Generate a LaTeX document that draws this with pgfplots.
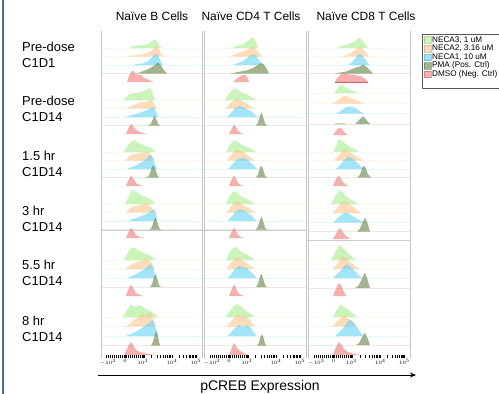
\documentclass[border=0pt]{standalone}
\usepackage{pgfplots}
\pgfplotsset{compat=1.18}
\usepackage{fontspec}
\setmainfont{Liberation Sans}
\usetikzlibrary{arrows.meta}
\definecolor{cgreen}{RGB}{165,238,140}
\definecolor{corange}{RGB}{252,196,140}
\definecolor{cblue}{RGB}{100,212,245}
\definecolor{colive}{RGB}{110,140,80}
\definecolor{cred}{RGB}{240,120,120}
\definecolor{lblue}{RGB}{70,110,165}
\pgfplotsset{
  g/.style={fill=cgreen, fill opacity=0.6, draw=none, forget plot},
  o/.style={fill=corange, fill opacity=0.6, draw=none, forget plot},
  b/.style={fill=cblue, fill opacity=0.6, draw=none, forget plot},
  v/.style={fill=colive, fill opacity=0.65, draw=none, forget plot},
  r/.style={fill=cred, fill opacity=0.6, draw=none, forget plot},
  bl/.style={draw=#1, draw opacity=0.16, line width=0.6bp, unbounded coords=jump, forget plot},
  panel/.style={scale only axis, height=327bp, ymin=-358, ymax=-31,
    separate axis lines, x axis line style={draw=none},
    y axis line style={draw=gray!45, line width=0.9bp},
    ytick=\empty, xtick pos=left, tick align=inside,
    major tick length=3.2bp, minor tick length=3.2bp,
    tick style={black, line width=0.55bp},
    xticklabel style={font=\fontsize{4.5}{4.5}\selectfont, inner sep=0.6bp},
    xticklabels={$-10^3$,$0$,$10^3$,$10^4$,$10^5$},
    clip=false},
}
\begin{document}
\begin{tikzpicture}
\path[use as bounding box] (0,0) rectangle (499bp,-394bp);
\draw[lblue, line width=1.2bp] (3bp,0) -- (3bp,-394bp);
% titles
\node[font=\fontsize{12}{14}\selectfont] at (152bp,-16bp) {Naïve B Cells};
\node[font=\fontsize{12}{14}\selectfont] at (251bp,-16bp) {Naïve CD4 T Cells};
\node[font=\fontsize{12}{14}\selectfont] at (366bp,-16bp) {Naïve CD8 T Cells};
% row labels
\begin{scope}[every node/.style={anchor=west, inner sep=0pt, align=left, font=\fontsize{13}{16}\selectfont}]
\node at (22bp,-54.5bp) {Pre-dose\\C1D1};
\node at (22bp,-108.5bp) {Pre-dose\\C1D14};
\node at (22bp,-163.5bp) {1.5 hr\\C1D14};
\node at (22bp,-218.5bp) {3 hr\\C1D14};
\node at (22bp,-272.5bp) {5.5 hr\\C1D14};
\node at (22bp,-328.5bp) {8 hr\\C1D14};
\end{scope}
% ================= column 1 =================
\begin{axis}[panel, at={(101bp,-31bp)}, anchor=north west, width=101bp, xmin=101, xmax=202,
  xtick={108,125,143,172,196},
  minor xtick={106,108,...,144,151.7,156.8,160.5,163.3,165.6,167.5,169.2,170.7,179.2,183.5,186.5,188.8,190.7,192.3,193.7,194.9}]
\addplot[draw=gray!40, line width=0.7bp, forget plot] coordinates {(101,-230.5)(306,-230.5)};
\addplot[bl=cgreen] coordinates {(101,-48)(202,-48)(202,nan)(101,-100)(202,-100)(202,nan)(101,-152)(202,-152)(202,nan)(101,-204)(202,-204)(202,nan)(101,-260)(202,-260)(202,nan)(101,-317)(202,-317)};
\addplot[bl=corange] coordinates {(101,-56.5)(202,-56.5)(202,nan)(101,-108.5)(202,-108.5)(202,nan)(101,-160.5)(202,-160.5)(202,nan)(101,-212.5)(202,-212.5)(202,nan)(101,-269)(202,-269)(202,nan)(101,-326.5)(202,-326.5)};
\addplot[bl=cblue] coordinates {(101,-65)(202,-65)(202,nan)(101,-117)(202,-117)(202,nan)(101,-169)(202,-169)(202,nan)(101,-221)(202,-221)(202,nan)(101,-278)(202,-278)(202,nan)(101,-336)(202,-336)};
\addplot[bl=colive] coordinates {(101,-73.5)(202,-73.5)(202,nan)(101,-125.5)(202,-125.5)(202,nan)(101,-177.5)(202,-177.5)(202,nan)(101,-229.5)(202,-229.5)(202,nan)(101,-287)(202,-287)(202,nan)(101,-345.5)(202,-345.5)};
% row 0
\addplot[g] coordinates {(130,-48)(132,-46)(138,-45.5)(144,-45)(148,-44)(151,-42)(154,-39.5)(156,-40)(158,-43)(160,-46.5)(162,-48)};
\addplot[o] coordinates {(127,-56.5)(132,-55.5)(140,-55)(146,-53.5)(150,-51.5)(154,-48.5)(156.5,-46)(158,-47.5)(160,-51.5)(162,-55)(164,-56.5)};
\addplot[b] coordinates {(132,-65)(138,-64)(144,-63)(148,-61)(151,-58)(154,-55)(156,-53.5)(158,-55)(160,-60)(162,-64)(163,-65)};
\addplot[v] coordinates {(137,-73.5)(142,-71.5)(147,-69.5)(151,-67.5)(155,-65)(158,-62.5)(161,-65.5)(164,-70.5)(167,-73.5)};
\addplot[r] coordinates {(127,-82)(129,-76)(131,-72)(133,-70.5)(135,-73)(138,-75)(141,-75)(144,-78)(147,-79)(150,-80.5)(154,-82)};
% row 1
\addplot[g] coordinates {(123,-100)(126,-97)(130,-94)(135,-93)(140,-92)(145,-90.5)(149,-88)(151,-89)(153,-95)(155,-100)};
\addplot[o] coordinates {(126,-108.5)(130,-106.5)(135,-104.5)(140,-102.5)(144,-102)(147,-101.5)(150,-99.5)(152,-100.5)(154,-103.5)(157,-108.5)};
\addplot[b] coordinates {(125,-117)(130,-115.5)(136,-114)(142,-112)(147,-110)(151,-108)(153,-107)(155,-109)(157,-114)(158,-117)};
\addplot[v] coordinates {(148,-125.5)(151,-123.5)(153,-118.5)(154.5,-115.5)(156,-118.5)(158,-123.5)(160,-125.5)};
\addplot[r] coordinates {(126,-134)(128,-129)(130,-125)(131.5,-124)(133,-126)(136,-130)(140,-132)(144,-133)(147,-134)};
% row 2
\addplot[g] coordinates {(124,-152)(127,-147)(131,-142)(134,-140)(137,-142)(141,-144)(145,-146)(150,-147)(153,-149)(155,-152)};
\addplot[o] coordinates {(126,-160.5)(129,-156.5)(133,-154.5)(137,-154)(141,-153)(145,-151.5)(149,-152.5)(152,-155.5)(155,-160.5)};
\addplot[b] coordinates {(127,-169)(132,-167)(137,-165)(142,-162)(146,-159)(149,-155.5)(151,-155)(153,-159)(155,-165)(157,-169)};
\addplot[v] coordinates {(145,-177.5)(148,-176.5)(150,-173.5)(152,-166.5)(153.5,-165.5)(155,-168.5)(157,-174.5)(159,-177.5)};
\addplot[r] coordinates {(126,-186)(128,-181)(130,-177)(131.5,-176)(133,-178)(136,-183)(140,-185)(143,-186)};
% row 3
\addplot[g] coordinates {(125,-204)(128,-198)(132,-190)(135,-191)(139,-194)(143,-196)(148,-198)(152,-200)(155,-204)};
\addplot[o] coordinates {(126,-212.5)(129,-209.5)(133,-206.5)(138,-205.5)(142,-204.5)(145,-202.5)(148,-203.5)(151,-206.5)(154,-212.5)};
\addplot[b] coordinates {(128,-221)(133,-219)(139,-217)(144,-215)(148,-213)(151,-211)(154,-209)(156,-213)(157,-221)};
\addplot[v] coordinates {(150,-229.5)(152,-226.5)(154,-220.5)(155.5,-217.5)(157,-221.5)(159,-227.5)(161,-229.5)};
\addplot[r] coordinates {(126,-238)(128,-233)(130,-229)(131.5,-228)(133,-230)(136,-235)(140,-237)(144,-238)};
% row 4
\addplot[g] coordinates {(124,-260)(127,-254)(131,-248)(134,-247.5)(138,-250)(142,-252)(147,-254)(151,-256)(155,-260)};
\addplot[o] coordinates {(125,-269)(129,-266)(134,-263)(139,-261)(143,-260)(146,-258)(149,-260)(152,-264)(155,-269)};
\addplot[b] coordinates {(127,-278)(132,-276)(138,-273)(143,-270)(147,-267)(150,-264)(152,-265)(154,-271)(156,-278)};
\addplot[v] coordinates {(150,-287)(152,-284)(154,-277)(155.5,-274)(157,-278)(159,-285)(161,-287)};
\addplot[r] coordinates {(126,-296)(128,-290)(130,-286)(131.5,-285)(133,-288)(136,-293)(140,-295)(144,-296)};
% row 5
\addplot[g] coordinates {(123,-317)(127,-310)(131,-304.5)(134,-307)(137,-306)(140,-305)(144,-308)(150,-311)(155,-314)(158,-317)};
\addplot[o] coordinates {(126,-326.5)(130,-323.5)(135,-319.5)(139,-316.5)(142,-313.5)(145,-316.5)(148,-313.5)(150,-311.5)(153,-317.5)(156,-326.5)};
\addplot[b] coordinates {(125,-336)(131,-334)(137,-331)(142,-328)(146,-325)(150,-322)(152.5,-320)(155,-326)(157,-333)(158,-336)};
\addplot[v] coordinates {(151,-345.5)(153,-341.5)(155,-333.5)(156,-330.5)(157.5,-334.5)(159,-341.5)(160,-345.5)};
\addplot[r] coordinates {(124,-355)(127,-349)(129,-344)(131,-342)(133,-345)(136,-350)(140,-352)(146,-353.5)(152,-354.3)(157,-355)};
\end{axis}
% ================= column 2 =================
\begin{axis}[panel, at={(204bp,-31bp)}, anchor=north west, width=102bp, xmin=204, xmax=306,
  xtick={212,229,247,276,300},
  minor xtick={210,212,...,248,255.7,260.8,264.5,267.3,269.6,271.5,273.2,274.7,283.2,287.5,290.5,292.8,294.7,296.3,297.7,298.9}]
\addplot[bl=cgreen] coordinates {(204,-48)(306,-48)(306,nan)(204,-100)(306,-100)(306,nan)(204,-152)(306,-152)(306,nan)(204,-204)(306,-204)(306,nan)(204,-260)(306,-260)(306,nan)(204,-317)(306,-317)};
\addplot[bl=corange] coordinates {(204,-56.5)(306,-56.5)(306,nan)(204,-108.5)(306,-108.5)(306,nan)(204,-160.5)(306,-160.5)(306,nan)(204,-212.5)(306,-212.5)(306,nan)(204,-269)(306,-269)(306,nan)(204,-326.5)(306,-326.5)};
\addplot[bl=cblue] coordinates {(204,-65)(306,-65)(306,nan)(204,-117)(306,-117)(306,nan)(204,-169)(306,-169)(306,nan)(204,-221)(306,-221)(306,nan)(204,-278)(306,-278)(306,nan)(204,-336)(306,-336)};
\addplot[bl=colive] coordinates {(204,-73.5)(306,-73.5)(306,nan)(204,-125.5)(306,-125.5)(306,nan)(204,-177.5)(306,-177.5)(306,nan)(204,-229.5)(306,-229.5)(306,nan)(204,-287)(306,-287)(306,nan)(204,-345.5)(306,-345.5)};
% row 0
\addplot[g] coordinates {(232,-48)(236,-46)(241,-45)(245,-43)(249,-40)(252,-37.5)(254,-38)(256,-43)(258,-48)};
\addplot[o] coordinates {(230,-56.5)(235,-54.5)(240,-52.5)(245,-50.5)(249,-48.5)(252,-46.5)(255,-47.5)(258,-51.5)(261,-55.5)(262,-56.5)};
\addplot[b] coordinates {(233,-65)(238,-63)(243,-61)(247,-58)(251,-55)(254,-54)(257,-57)(260,-62)(262,-65)};
\addplot[v] coordinates {(230,-73.5)(238,-72)(246,-70.5)(252,-68.5)(257,-65.5)(261,-63)(264,-64.5)(267,-69.5)(269,-73.5)};
\addplot[r] coordinates {(233,-82)(236,-79)(239,-77)(242,-75.5)(245,-75)(247,-77)(249,-82)};
% row 1
\addplot[g] coordinates {(225,-100)(228,-95)(232,-90)(235,-88)(238,-90)(243,-93)(248,-95)(253,-98)(256,-100)};
\addplot[o] coordinates {(226,-108.5)(229,-104.5)(233,-100.5)(236,-98.5)(239,-99.5)(243,-101.5)(247,-103.5)(251,-106.5)(254,-108.5)};
\addplot[b] coordinates {(227,-117)(231,-113)(235,-108)(239,-106)(243,-107)(247,-109)(251,-111)(255,-115)(258,-117)};
\addplot[v] coordinates {(256,-125.5)(258,-122.5)(260,-115.5)(261.5,-112.5)(263,-116.5)(265,-123.5)(267,-125.5)};
\addplot[r] coordinates {(229,-134)(231,-130)(233,-126)(234.5,-125)(236,-127)(238,-131)(241,-133)(244,-134)};
% row 2
\addplot[g] coordinates {(226,-152)(229,-146)(233,-141)(235,-140)(238,-142)(242,-145)(247,-147)(252,-149)(256,-152)};
\addplot[o] coordinates {(227,-160.5)(230,-156.5)(234,-151.5)(237,-149.5)(240,-150.5)(244,-152.5)(248,-155.5)(252,-158.5)(255,-160.5)};
\addplot[b] coordinates {(228,-169)(232,-165)(236,-160)(240,-158)(244,-158)(248,-160)(252,-164)(255,-167)(257,-169)};
\addplot[v] coordinates {(256,-177.5)(258,-174.5)(260,-167.5)(261.5,-165.5)(263,-169.5)(265,-175.5)(267,-177.5)};
\addplot[r] coordinates {(229,-186)(231,-181)(233,-177)(234.5,-176)(236,-179)(238,-183)(241,-185)(244,-186)};
% row 3
\addplot[g] coordinates {(226,-204)(229,-197)(233,-192)(235,-191)(238,-194)(242,-197)(247,-199)(252,-202)(255,-204)};
\addplot[o] coordinates {(227,-212.5)(230,-207.5)(234,-202.5)(237,-201.5)(240,-202.5)(244,-205.5)(248,-207.5)(252,-210.5)(255,-212.5)};
\addplot[b] coordinates {(228,-221)(232,-216)(236,-211)(240,-209)(244,-210)(248,-213)(252,-216)(255,-219)(257,-221)};
\addplot[v] coordinates {(256,-229.5)(258,-226.5)(260,-219.5)(261.5,-216.5)(263,-220.5)(265,-227.5)(267,-229.5)};
\addplot[r] coordinates {(229,-238)(231,-233)(233,-229)(234.5,-228)(236,-231)(238,-235)(241,-237)(244,-238)};
% row 4
\addplot[g] coordinates {(226,-260)(229,-253)(233,-248)(236,-247)(239,-250)(243,-253)(248,-255)(252,-258)(255,-260)};
\addplot[o] coordinates {(227,-269)(230,-264)(234,-259)(237,-257)(240,-259)(244,-261)(248,-264)(252,-267)(255,-269)};
\addplot[b] coordinates {(228,-278)(232,-273)(236,-268)(239,-266)(243,-267)(247,-268)(251,-272)(255,-276)(257,-278)};
\addplot[v] coordinates {(256,-287)(258,-284)(260,-276)(261.5,-274)(263,-278)(265,-285)(267,-287)};
\addplot[r] coordinates {(229,-296)(231,-291)(233,-286)(234.5,-285)(236,-288)(238,-293)(241,-295)(245,-296)};
% row 5
\addplot[g] coordinates {(226,-317)(230,-311)(234,-306)(237,-304)(240,-306)(244,-309)(248,-312)(252,-315)(254,-317)};
\addplot[o] coordinates {(227,-326.5)(231,-321.5)(235,-316.5)(238,-314.5)(241,-316.5)(245,-315.5)(249,-318.5)(252,-323.5)(255,-326.5)};
\addplot[b] coordinates {(228,-336)(232,-331)(236,-327)(239,-325)(243,-327)(247,-325)(251,-328)(254,-333)(257,-336)};
\addplot[v] coordinates {(257,-345.5)(259,-342.5)(260.5,-336.5)(262,-334.5)(263.5,-337.5)(265,-343.5)(266,-345.5)};
\addplot[r] coordinates {(229,-355)(231,-350)(233,-345)(234.5,-343)(236,-346)(239,-350)(242,-352)(246,-354)(250,-355)};
\end{axis}
% ================= column 3 =================
\begin{axis}[panel, at={(308.5bp,-31bp)}, anchor=north west, width=102bp, xmin=308.5, xmax=410.5,
  xtick={316.5,333.5,351.5,380.5,404.5},
  minor xtick={314.5,316.5,...,352.5,360.2,365.3,369,371.8,374.1,376,377.7,379.2,387.7,392,395,397.3,399.2,400.8,402.2,403.4},
  legend cell align=left,
  legend style={at={(1.108,0.99)}, anchor=north west, draw=gray!70!black, line width=0.6bp,
    font=\fontsize{8.2}{9}\selectfont, inner xsep=2.2bp, inner ysep=1.2bp, row sep=0bp,
    nodes={inner xsep=1bp, inner ysep=0.5bp, text height=5.8bp, text depth=1.8bp}}]
\addlegendimage{legend image code/.code={\draw[fill=cgreen, fill opacity=0.6, draw=cgreen!75!black, draw opacity=0.5] (0bp,-3.3bp) rectangle (6.6bp,3.3bp);}}
\addlegendentry{NECA3, 1 uM}
\addlegendimage{legend image code/.code={\draw[fill=corange, fill opacity=0.6, draw=corange!75!black, draw opacity=0.5] (0bp,-3.3bp) rectangle (6.6bp,3.3bp);}}
\addlegendentry{NECA2, 3.16 uM}
\addlegendimage{legend image code/.code={\draw[fill=cblue, fill opacity=0.6, draw=cblue!75!black, draw opacity=0.5] (0bp,-3.3bp) rectangle (6.6bp,3.3bp);}}
\addlegendentry{NECA1, 10 uM}
\addlegendimage{legend image code/.code={\draw[fill=colive, fill opacity=0.65, draw=colive!75!black, draw opacity=0.5] (0bp,-3.3bp) rectangle (6.6bp,3.3bp);}}
\addlegendentry{PMA (Pos. Ctrl)}
\addlegendimage{legend image code/.code={\draw[fill=cred, fill opacity=0.6, draw=cred!75!black, draw opacity=0.5] (0bp,-3.3bp) rectangle (6.6bp,3.3bp);}}
\addlegendentry{DMSO (Neg. Ctrl)}
\addlegendimage{empty legend}
\addlegendentry{\phantom{X}}
\addplot[draw=gray!40, line width=0.7bp, forget plot] coordinates {(306,-240)(410.5,-240)};
\addplot[bl=cgreen] coordinates {(308.5,-48)(410.5,-48)(410.5,nan)(308.5,-93)(410.5,-93)(410.5,nan)(308.5,-152)(410.5,-152)(410.5,nan)(308.5,-204)(410.5,-204)(410.5,nan)(308.5,-260)(410.5,-260)(410.5,nan)(308.5,-317)(410.5,-317)};
\addplot[bl=corange] coordinates {(308.5,-56.5)(410.5,-56.5)(410.5,nan)(308.5,-103.5)(410.5,-103.5)(410.5,nan)(308.5,-160.5)(410.5,-160.5)(410.5,nan)(308.5,-213)(410.5,-213)(410.5,nan)(308.5,-269)(410.5,-269)(410.5,nan)(308.5,-326.5)(410.5,-326.5)};
\addplot[bl=cblue] coordinates {(308.5,-65)(410.5,-65)(410.5,nan)(300,-113.5)(410.5,-113.5)(410.5,nan)(308.5,-169)(410.5,-169)(410.5,nan)(308.5,-222.5)(410.5,-222.5)(410.5,nan)(308.5,-278)(410.5,-278)(410.5,nan)(308.5,-336)(410.5,-336)};
\addplot[bl=colive] coordinates {(308.5,-73.5)(410.5,-73.5)(410.5,nan)(308.5,-124)(410.5,-124)(410.5,nan)(308.5,-177.5)(410.5,-177.5)(410.5,nan)(308.5,-231.5)(410.5,-231.5)(410.5,nan)(308.5,-288)(410.5,-288)(410.5,nan)(308.5,-345)(410.5,-345)};
% row 0
\addplot[g] coordinates {(337,-48)(341,-46)(346,-45)(351,-43)(355,-41)(358,-38.5)(360,-38)(362,-40)(365,-44)(368,-48)};
\addplot[o] coordinates {(342,-56.5)(346,-55)(350,-53.5)(354,-50.5)(357,-48.5)(360,-46.5)(362,-47.5)(365,-51.5)(369,-56.5)};
\addplot[b] coordinates {(348,-65)(351,-63)(354,-60)(357,-56)(360,-54)(362,-55)(365,-59)(369,-65)};
\addplot[v] coordinates {(335,-73.5)(340,-72.5)(346,-71.5)(351,-69.5)(356,-67.5)(360,-66.5)(363,-64.5)(366,-66.5)(369,-69.5)(373,-73.5)};
\addplot[r] coordinates {(335,-82)(337,-78)(340,-75)(343,-72.5)(346,-74)(350,-74.5)(355,-75)(360,-76)(364,-78)(368,-82)};
\addplot[draw=red!60!black, draw opacity=0.6, line width=0.6bp, forget plot] coordinates {(335,-82)(368,-82)};
% row 1
\addplot[g] coordinates {(334,-93)(337,-89)(340,-85)(343,-86)(347,-88)(351,-90)(355,-91.5)(358,-93)};
\addplot[o] coordinates {(332,-103.5)(336,-101.5)(340,-98.5)(344,-96)(348,-96.5)(352,-98.5)(357,-100.5)(361,-102.5)(364,-103.5)};
\addplot[b] coordinates {(336,-113.5)(340,-111.5)(344,-108.5)(348,-106.5)(352,-106.5)(356,-108.5)(360,-111.5)(364,-113.5)};
\addplot[v] coordinates {(335,-124)(335,-123.4)(345,-123.4)(345,-124)(355,-124)(358,-121)(361,-118)(363,-116.5)(365,-118)(368,-122)(370,-124)};
\addplot[r] coordinates {(333,-135)(336,-131)(339,-127.5)(342,-129)(345,-133)(348,-135)};
% row 2
\addplot[g] coordinates {(333,-152)(336,-146)(339,-139)(342,-141)(346,-144)(350,-147)(355,-149)(359,-152)};
\addplot[o] coordinates {(334,-160.5)(338,-156.5)(342,-151.5)(345,-149.5)(349,-151.5)(353,-154.5)(358,-157.5)(364,-160.5)};
\addplot[b] coordinates {(336,-169)(340,-165)(344,-160)(348,-157)(352,-158)(356,-162)(360,-166)(365,-169)};
\addplot[v] coordinates {(357,-177.5)(360,-174.5)(362,-168.5)(364,-165.5)(366,-168.5)(368,-174.5)(371,-177.5)};
\addplot[r] coordinates {(333,-186)(335,-181)(338,-176)(340,-177)(343,-182)(346,-185)(349,-186)};
% row 3
\addplot[g] coordinates {(331,-204)(335,-197)(339,-190)(342,-192)(346,-196)(350,-199)(355,-202)(358,-204)};
\addplot[o] coordinates {(333,-213)(337,-208)(341,-203)(344,-201)(348,-203)(352,-206)(357,-210)(361,-213)};
\addplot[b] coordinates {(333,-222.5)(337,-218.5)(341,-215.5)(345,-212.5)(349,-213.5)(353,-216.5)(358,-219.5)(365,-222.5)};
\addplot[v] coordinates {(357,-231.5)(360,-228.5)(363,-221.5)(365,-217.5)(367,-221.5)(369,-228.5)(370,-231.5)};
\addplot[r] coordinates {(333,-239)(336,-234)(339,-228)(341,-229)(344,-234)(347,-237)(350,-239)};
% row 4
\addplot[g] coordinates {(331,-260)(335,-253)(339,-245)(342,-247)(346,-251)(350,-255)(355,-259)(356,-260)};
\addplot[o] coordinates {(333,-269)(337,-264)(340,-259)(343,-256)(346,-258)(350,-262)(355,-266)(360,-269)};
\addplot[b] coordinates {(333,-278)(337,-274)(341,-270)(344,-266)(347,-264)(350,-266)(354,-270)(358,-275)(362,-278)};
\addplot[v] coordinates {(355,-288)(358,-286)(361,-281)(363,-276)(365,-273)(367,-278)(369,-285)(370,-288)};
\addplot[r] coordinates {(333,-296)(335,-291)(337,-286)(339,-283)(341,-285)(343,-290)(345,-294)(347,-296)};
% row 5
\addplot[g] coordinates {(333,-317)(336,-311)(340,-305)(343,-306)(347,-309)(351,-312)(355,-315)(356,-317)};
\addplot[o] coordinates {(332,-326.5)(336,-322.5)(340,-318.5)(344,-315.5)(347,-317.5)(351,-320.5)(355,-324.5)(356,-326.5)};
\addplot[b] coordinates {(335,-336)(339,-332)(343,-328)(347,-323)(350,-319.5)(353,-322)(357,-327)(361,-333)(363,-336)};
\addplot[v] coordinates {(356,-345)(359,-343)(361,-339)(363,-335)(365,-333)(367,-337)(369,-342)(370,-345)};
\addplot[r] coordinates {(333,-355)(335,-349)(337,-345)(339,-342)(341,-344)(344,-349)(348,-352)(353,-353.5)(360,-355)};
\end{axis}
% arrow and x label
\draw[black, line width=0.9bp, -{Stealth[length=6bp, width=5bp]}] (98bp,-375bp) -- (416bp,-375bp);
\node[font=\fontsize{14}{16}\selectfont] at (260bp,-387bp) {pCREB Expression};
\end{tikzpicture}
\end{document}
